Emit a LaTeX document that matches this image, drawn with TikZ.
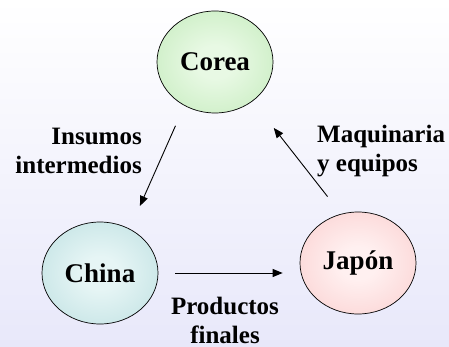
\documentclass[tikz,border=0pt]{standalone}
\usepackage{fontspec}
\setmainfont{Liberation Serif}
\usetikzlibrary{shapes.geometric,arrows.meta}
\definecolor{coreain}{RGB}{232,249,228}
\definecolor{coreaout}{RGB}{178,228,168}
\definecolor{chinain}{RGB}{230,245,245}
\definecolor{chinaout}{RGB}{170,214,216}
\definecolor{japonin}{RGB}{255,240,240}
\definecolor{japonout}{RGB}{248,190,190}
\definecolor{bglow}{RGB}{232,232,250}
\pgfdeclareradialshading{coreaglow}{\pgfpoint{0bp}{0bp}}{color(0bp)=(coreain); color(8bp)=(coreain); color(50bp)=(coreaout)}
\pgfdeclareradialshading{chinaglow}{\pgfpoint{0bp}{0bp}}{color(0bp)=(chinain); color(8bp)=(chinain); color(50bp)=(chinaout)}
\pgfdeclareradialshading{japonglow}{\pgfpoint{0bp}{0bp}}{color(0bp)=(japonin); color(8bp)=(japonin); color(50bp)=(japonout)}

\begin{document}
\begin{tikzpicture}[x=1pt,y=-1pt,
  country/.style={ellipse,draw,line width=0.7pt,minimum width=116pt,minimum height=102pt,inner sep=0pt,font=\fontsize{27}{32}\selectfont\bfseries},
  flow/.style={line width=0.9pt,-{Triangle[length=10pt,width=8pt]}},
  note/.style={font=\fontsize{25}{29}\selectfont\bfseries,inner sep=0pt}]
\fill[top color=white,bottom color=bglow] (0,0) rectangle (449,347);
\node[country,shading=coreaglow] (corea) at (215,62) {Corea};
\node[country,shading=chinaglow] (china) at (100,273) {China};
\node[country,shading=japonglow] (japon) at (358,263) {Japón};
\draw[flow,shorten <=22pt,shorten >=25pt] (corea.235) -- (china.56);
\draw[flow,shorten <=22pt,shorten >=34pt] (japon.109) -- (corea.314);
\draw[flow,shorten <=17pt,shorten >=17pt] (china.east) -- (china.east -| japon.west);
\node[note,anchor=east,align=right] (insumos) at (142,151) {Insumos\\intermedios};
\node[note,anchor=west,align=left] (maquinaria) at (317,151) {Maquinaria\\y equipos};
\node[note,align=center] (productos) at (225,320) {Productos\\finales};
\end{tikzpicture}
\end{document}
